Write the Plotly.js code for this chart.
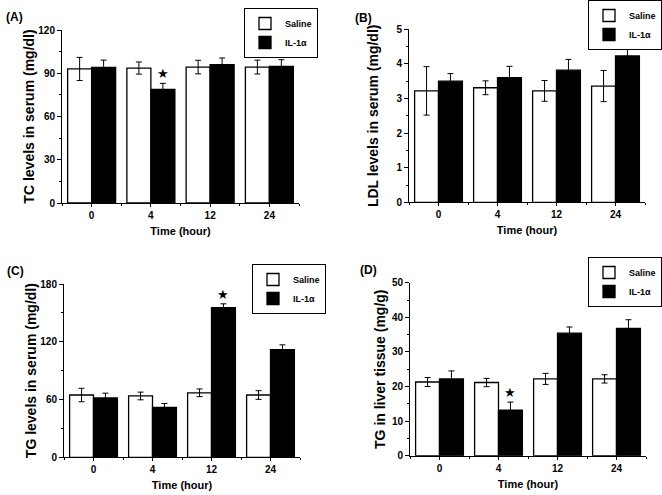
<!DOCTYPE html>
<html>
<head>
<meta charset="utf-8">
<script src="https://cdn.plot.ly/plotly-3.0.1.min.js"></script>
<style>html,body{margin:0;padding:0;background:#fff;}#chart{width:662px;height:495px;}</style>
</head>
<body>
<div id="chart"></div>
<script>
const categories = ['0', '4', '12', '24'];
const seriesNames = ['Saline', 'IL-1\u03b1'];

const tcSaline = [93.0, 93.6, 94.3, 94.3];
const tcSalineErr = [8.0, 4.2, 4.7, 4.8];
const tcIL = [94.1, 78.8, 95.9, 94.8];
const tcILErr = [5.0, 4.2, 4.7, 4.6];

const ldlSaline = [3.22, 3.31, 3.22, 3.36];
const ldlSalineErr = [0.70, 0.20, 0.30, 0.45];
const ldlIL = [3.50, 3.60, 3.82, 4.23];
const ldlILErr = [0.22, 0.33, 0.31, 0.32];

const tgSerumSaline = [64.7, 63.7, 67.0, 64.7];
const tgSerumSalineErr = [7.0, 4.0, 4.0, 4.5];
const tgSerumIL = [61.6, 51.9, 155.4, 111.8];
const tgSerumILErr = [5.0, 4.0, 4.0, 5.0];

const tgLiverSaline = [21.3, 21.15, 22.2, 22.2];
const tgLiverSalineErr = [1.3, 1.2, 1.6, 1.2];
const tgLiverIL = [22.2, 13.2, 35.4, 36.8];
const tgLiverILErr = [2.3, 2.3, 1.8, 2.5];

const yTitles = ['TC levels in serum (mg/dl)', 'LDL levels in serum (mg/dl)', 'TG levels in serum (mg/dl)', 'TG in liver tissue (mg/g)'];
const panelLabels = ['(A)', '(B)', '(C)', '(D)'];
const yMax = [120, 5, 180, 50];
const yDtick = [30, 1, 60, 10];
const significant = [[1], [], [2], [1]]; // category indices with * on IL-1α

const panels = [
  {s: tcSaline, se: tcSalineErr, il: tcIL, ie: tcILErr},
  {s: ldlSaline, se: ldlSalineErr, il: ldlIL, ie: ldlILErr},
  {s: tgSerumSaline, se: tgSerumSalineErr, il: tgSerumIL, ie: tgSerumILErr},
  {s: tgLiverSaline, se: tgLiverSalineErr, il: tgLiverIL, ie: tgLiverILErr}
];

const W = 662, H = 495;
// plot boxes in pixels [x0, x1, yTop, yBottom]
const boxes = [[62, 299, 30, 203], [409, 645, 29.3, 202.3], [64, 300, 284, 457.3], [410, 646, 282.7, 455.7]];
const titleStandoff = [0, 14, 0, 2];
const legendPos = [[318, 8], [662, 0], [326, 264], [662, 257]];
const labelPos = [[4, 17], [353, 18], [5, 271], [358, 270]];

const FONT = 'Arial, "Liberation Sans", sans-serif';
const xIdx = categories.map((c, i) => i);

const data = [];
const layout = {
  width: W, height: H,
  margin: {l: 0, r: 0, t: 0, b: 0},
  paper_bgcolor: '#fff', plot_bgcolor: '#fff',
  barmode: 'group', bargap: 0.19, bargroupgap: 0,
  font: {family: FONT, color: '#000', weight: 'bold'},
  annotations: [],
  showlegend: true
};

panels.forEach((p, k) => {
  const n = k + 1;
  const xa = 'x' + (n === 1 ? '' : n);
  const ya = 'y' + (n === 1 ? '' : n);
  const lg = 'legend' + (n === 1 ? '' : n);
  const errStyle = {type: 'data', visible: true, color: '#000', thickness: 1, width: 3};
  data.push({
    type: 'bar', name: seriesNames[0], x: xIdx, y: p.s, xaxis: xa, yaxis: ya, legend: lg,
    marker: {color: '#fff', line: {color: '#000', width: 1.3}},
    error_y: Object.assign({array: p.se}, errStyle)
  });
  data.push({
    type: 'bar', name: seriesNames[1], x: xIdx, y: p.il, xaxis: xa, yaxis: ya, legend: lg,
    marker: {color: '#000', line: {color: '#000', width: 1.3}},
    error_y: Object.assign({array: p.ie}, errStyle)
  });
  const b = boxes[k];
  const axKey = 'xaxis' + (n === 1 ? '' : n);
  const ayKey = 'yaxis' + (n === 1 ? '' : n);
  layout[axKey] = {
    domain: [b[0] / W, b[1] / W], anchor: ya,
    range: [-0.5, 3.5], tickvals: xIdx, ticktext: categories,
    showline: true, linecolor: '#000', linewidth: 1, showgrid: false, zeroline: false,
    ticks: 'outside', ticklen: 3, tickcolor: '#000',
    minor: {tick0: 0.5, dtick: 1, ticks: 'outside', ticklen: 2, tickcolor: '#000'},
    tickfont: {size: 10, family: FONT, weight: 'bold'},
    title: {text: 'Time (hour)', font: {size: 11, family: FONT, weight: 'bold'}, standoff: 7},
    fixedrange: true
  };
  layout[ayKey] = {
    domain: [1 - b[3] / H, 1 - b[2] / H], anchor: xa,
    range: [0, yMax[k]], dtick: yDtick[k], tick0: 0,
    showline: true, linecolor: '#000', linewidth: 1, showgrid: false, zeroline: false,
    ticks: 'outside', ticklen: 4, tickcolor: '#000',
    minor: {dtick: yDtick[k] / 2, ticks: 'outside', ticklen: 2, tickcolor: '#000'},
    tickfont: {size: 10, family: FONT, weight: 'bold'},
    title: {text: yTitles[k], font: {size: 14, family: FONT, weight: 'bold'}, standoff: titleStandoff[k]},
    fixedrange: true
  };
  const lp = legendPos[k];
  layout[lg] = {
    x: lp[0] / W, y: 1 - lp[1] / H, xanchor: 'right', yanchor: 'top',
    bgcolor: '#fff', bordercolor: '#000', borderwidth: 1,
    font: {size: 9, family: FONT, weight: 'bold'},
    itemwidth: 30, tracegroupgap: 0, orientation: 'v'
  };
  const lab = labelPos[k];
  layout.annotations.push({
    xref: 'paper', yref: 'paper', x: lab[0] / W, y: 1 - lab[1] / H,
    xanchor: 'left', yanchor: 'middle', text: panelLabels[k], showarrow: false,
    font: {size: 12, family: FONT, weight: 'bold'}
  });
  significant[k].forEach(i => {
    layout.annotations.push({
      xref: xa, yref: ya, x: xIdx[i] + 0.2, y: p.il[i] + p.ie[i],
      xanchor: 'center', yanchor: 'bottom', yshift: 0, text: '\u2605', showarrow: false,
      font: {size: 13, family: '"DejaVu Sans", sans-serif', color: '#000'}
    });
  });
});

Plotly.newPlot('chart', data, layout, {displayModeBar: false, staticPlot: true});
</script>
</body>
</html>
